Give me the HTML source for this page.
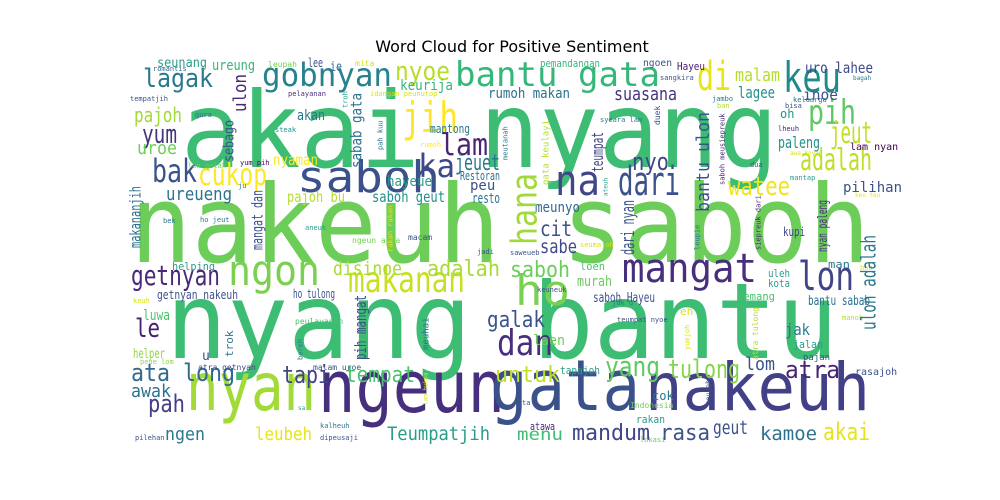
<!DOCTYPE html>
<html><head><meta charset="utf-8"><style>
html,body{margin:0;padding:0;background:#fff;}
svg{display:block;}
text{font-family:"DejaVu Sans Mono","Liberation Mono",monospace;}
</style></head><body>
<svg id="cloud" width="1000" height="500" viewBox="0 0 1000 500" xmlns="http://www.w3.org/2000/svg">
<rect width="1000" height="500" fill="#fff"/>
<text x="512" y="52" text-anchor="middle" font-size="16" style="font-family:'DejaVu Sans','Liberation Sans',sans-serif">Word Cloud for Positive Sentiment</text>
<g id="words"></g>
</svg>
<script>
// [text, x, baselineY, fontSize, color, width(0=auto), rotated]
const words = [
["akai nyang",181,167,105,"#3dbc74",597,0],
["nakeuh saboh",130,262,108,"#6dcd59",740,0],
["nyang bantu",166,358,105,"#3dbc74",672,0],
["ngeun",318,412,72,"#46307e",187,0],
["gata",490,410,70,"#3b518b",150,0],
["nakeuh",645,410,66,"#424086",225,0],
["nyan",186,410,66,"#a2da37",130,0],
["saboh",297,192,44,"#3b518b",143,0],
["gobnyan",262,86,32,"#26828e",130,0],
["lagak",143,87,26,"#2a788e",70,0],
["nyoe",395,80,26,"#b5de2b",55,0],
["bantu gata",455,86,34,"#35b779",205,0],
["di",697,90,40,"#e7e419",34,0],
["keu",783,92,42,"#1f8a8a",58,0],
["pih",808,124,34,"#5ec962",48,0],
["jeut",830,143,30,"#c2df23",42,0],
["jih",402,132,42,"#fde725",56,0],
["lam",440,155,30,"#482475",48,0],
["ka",418,177,32,"#3e4989",37,0],
["jeuet",455,170,22,"#2a788e",45,0],
["bak",152,182,32,"#3b528b",45,0],
["cukop",198,185,30,"#fde725",69,0],
["yum",142,143,26,"#46327e",35,0],
["pajoh",134,122,20,"#a0da39",48,0],
["uroe",137,154,18,"#6ece58",40,0],
["ureueng",166,200,18,"#2c728e",66,0],
["na",555,195,42,"#404688",45,0],
["dari",618,195,40,"#3b528b",62,0],
["nyo",632,170,24,"#404688",37,0],
["adalah",800,170,30,"#bddf26",72,0],
["watee",728,195,26,"#f1e51d",62,0],
["ngon",228,285,42,"#7ad151",92,0],
["makanan",348,292,36,"#c8e020",117,0],
["mangat",622,282,40,"#472f7d",135,0],
["lon",798,290,40,"#414487",56,0],
["ho",515,305,42,"#7ad151",55,0],
["getnyan",131,285,28,"#482878",89,0],
["disinoe",333,275,19,"#a8db34",69,0],
["adalah",427,276,22,"#a8db34",73,0],
["saboh",510,277,22,"#6ccd5a",60,0],
["le",135,337,26,"#482173",25,0],
["dan",497,355,36,"#472f7d",56,0],
["galak",487,327,22,"#3b528b",58,0],
["ata long",131,381,24,"#31688e",104,0],
["tapi",282,383,24,"#414487",48,0],
["tempat",345,382,22,"#4ac16d",70,0],
["untuk",495,382,22,"#c0df25",65,0],
["yang",605,376,28,"#60ca60",55,0],
["tulong",668,378,26,"#84d44b",72,0],
["lom",745,370,18,"#3b528b",30,0],
["atra",785,378,24,"#482475",55,0],
["awak",131,397,18,"#2c738e",40,0],
["pah",148,412,24,"#433e85",37,0],
["ngen",165,440,18,"#2a788e",40,0],
["leubeh",255,440,18,"#e5e419",57,0],
["Teumpatjih",387,440,19,"#2a9d8a",103,0],
["menu",517,440,17,"#40bd72",46,0],
["mandum",572,440,22,"#404688",78,0],
["rasa",660,440,22,"#3b528b",50,0],
["geut",713,434,19,"#3b528b",35,0],
["kamoe",760,440,19,"#2c728e",57,0],
["akai",823,440,24,"#e5e419",47,0],
["seunang",157,67,13,"#2a9d8a",50,0],
["ureung",212,70,14,"#35b779",43,0],
["lee",308,67,12,"#3b528b",15,0],
["ie",330,71,13,"#31688e",12,0],
["mita",355,66,8,"#d8e219",0,0],
["leupah",268,67,8,"#74d055",0,0],
["romantis",153,71,7,"#31688e",0,0],
["tempatjih",130,101,7,"#3b528b",0,0],
["pelayanan",288,96,7,"#472f7d",0,0],
["idangan peunutop",370,96,7,"#d8e219",0,0],
["gura",195,117,7,"#2c728e",0,0],
["steak",275,132,7,"#20928c",0,0],
["keurija",400,90,14,"#35b779",53,0],
["akan",297,120,14,"#2a788e",28,0],
["mantong",430,133,12,"#2a788e",40,0],
["rumoh",420,147,7,"#fde725",0,0],
["nyaman",273,165,15,"#fde725",45,0],
["lon galak",188,168,7,"#6ccd5a",0,0],
["yum pih",240,165,7,"#44015a",0,0],
["hayeue",387,186,14,"#2a9d8a",45,0],
["Restoran",460,180,12,"#2c728e",40,0],
["peu",470,190,14,"#3b528b",0,0],
["pajoh bu",287,202,15,"#b5de2b",58,0],
["saboh geut",372,202,15,"#21918c",73,0],
["resto",472,203,14,"#2c728e",28,0],
["ju",238,188,7,"#2a788e",0,0],
["bek",163,223,7,"#2a788e",0,0],
["ho jeut",200,222,7,"#2a788e",0,0],
["aneuk",305,230,7,"#2a9d8a",0,0],
["ngeun atra",352,243,8,"#74d055",0,0],
["macam",408,240,8,"#3b528b",0,0],
["jadi",477,254,7,"#3b528b",0,0],
["pemandangan",540,67,11,"#35b779",60,0],
["ngoen",643,66,10,"#3b528b",29,0],
["Hayeu",677,70,11,"#482173",28,0],
["malam",735,81,18,"#b5de2b",45,0],
["uro lahee",805,73,15,"#3e4a89",68,0],
["sangkira",660,80,7,"#3b528b",0,0],
["bagah",853,80,6,"#2a788e",0,0],
["rumoh makan",488,98,14,"#2c728e",82,0],
["suasana",614,100,18,"#46327e",63,0],
["lagee",738,98,16,"#21918c",37,0],
["inoe",803,100,15,"#3b528b",35,0],
["jambo",712,101,7,"#2a788e",0,0],
["keluarga",793,102,7,"#2c728e",0,0],
["bisa",785,108,7,"#3b528b",0,0],
["ban",717,108,7,"#b5de2b",0,0],
["oh",780,118,12,"#21918c",0,0],
["syeara lam",600,122,7,"#2a788e",0,0],
["lheuh",778,131,7,"#482878",0,0],
["paleng",778,148,16,"#21918c",42,0],
["lam nyan",850,150,10,"#440154",0,0],
["awa knyan",790,155,6,"#d8e219",0,0],
["dua",750,167,7,"#3b528b",0,0],
["mantap",790,180,7,"#2a9d8a",0,0],
["pilihan",843,192,14,"#3b528b",0,0],
["keu teu",855,197,6,"#e5e419",0,0],
["meunyo",535,212,14,"#31688e",45,0],
["cit",540,236,21,"#3b528b",32,0],
["sabe",540,253,19,"#3e4989",37,0],
["seumajoh",580,247,7,"#d8e219",0,0],
["kupi",783,236,12,"#404688",22,0],
["helping",172,270,11,"#2a9d8a",43,0],
["getnyan nakeuh",157,299,12,"#3b528b",81,0],
["ho tulong",293,298,12,"#3b528b",42,0],
["keuh",133,303,7,"#d8e219",0,0],
["luwa",143,320,14,"#4ac16d",27,0],
["peulayanan",295,324,8,"#4ac16d",0,0],
["helper",133,358,13,"#90d743",32,0],
["u",202,360,13,"#3b528b",0,0],
["peue lom",140,364,7,"#90d743",0,0],
["atra getnyan",198,370,8,"#404688",0,0],
["malam uroe",313,370,8,"#3b528b",0,0],
["sa",298,410,6,"#2a9d8a",0,0],
["kalheuh",320,428,7,"#2a788e",0,0],
["pilehan",135,440,7,"#3b528b",0,0],
["dipeusaji",320,440,7,"#3b528b",0,0],
["saweueb",510,255,7,"#3b528b",0,0],
["loen",580,270,11,"#4ac16d",25,0],
["murah",577,286,14,"#6ccd5a",35,0],
["uleh",768,277,11,"#2a9d8a",22,0],
["kota",768,287,11,"#2a9d8a",22,0],
["man",828,268,11,"#2a788e",22,0],
["boh",860,270,7,"#e5e419",0,0],
["keuneuk",537,292,7,"#3b528b",0,0],
["saboh Hayeu",593,302,13,"#3b528b",62,0],
["memang",737,300,11,"#4ac16d",38,0],
["jak u",612,305,7,"#2a788e",0,0],
["bantu sabab",808,305,13,"#2c728e",62,0],
["eh",680,315,11,"#d8e219",0,0],
["teumpat nyoe",617,322,7,"#3b528b",0,0],
["manok",842,320,7,"#b5de2b",0,0],
["jak",785,335,16,"#2a788e",25,0],
["jalan",793,348,11,"#2a9d8a",30,0],
["pajan",803,360,9,"#3b528b",0,0],
["laen",533,345,14,"#6ccd5a",32,0],
["tapajoh",560,374,11,"#2a9d8a",40,0],
["rasajoh",855,375,10,"#3b528b",0,0],
["cok",652,400,12,"#2a788e",0,0],
["Indonesia",630,408,8,"#6ccd5a",0,0],
["ta",522,405,7,"#3b528b",0,0],
["rakan",636,423,11,"#2a9d8a",29,0],
["atawa",530,430,11,"#482878",25,0],
["lokasi",640,442,7,"#6ccd5a",0,0],
["hana",523,245,36,"#a0da39",72,1],
["teumpat",597,172,16,"#414487",40,1],
["bantu ulon",702,212,18,"#3b528b",100,1],
["gata keulayi",545,185,9,"#b5de2b",0,1],
["saboh meusiepreuk",722,185,7,"#482878",0,1],
["dari nyan",627,255,18,"#3b528b",55,1],
["nyan paleng",822,252,13,"#46327e",52,1],
["siepreuk dari",758,250,7,"#482878",0,1],
["leupie",697,250,7,"#2a788e",0,1],
["duek",657,125,8,"#3b528b",0,1],
["meutanah",505,160,7,"#2a788e",0,1],
["ateuh",605,196,6,"#2a9d8a",0,1],
["ulon adalah",868,330,20,"#2a788e",95,1],
["makananjih",135,248,15,"#2c728e",62,1],
["mangat dan",257,250,15,"#3b528b",60,1],
["ulon",239,112,18,"#482878",38,1],
["sebago",228,162,14,"#3b528b",42,1],
["sabab gata",356,168,15,"#2c728e",75,1],
["troh",345,108,7,"#2a9d8a",0,1],
["pah kuu",380,150,7,"#2c728e",0,1],
["rakan rakan",390,252,7,"#e5e419",0,1],
["pih mangat",360,360,16,"#3b528b",65,1],
["trok",229,357,11,"#2a788e",0,1],
["meuhai",425,350,9,"#2a788e",0,1],
["bereh",300,360,7,"#2a788e",0,1],
["lam hukoa",425,405,6,"#d8e219",0,1],
["yumjoh",687,350,7,"#d8e219",0,1],
["atra tulong",755,360,8,"#b5de2b",0,1],
["meunah",708,405,7,"#3b528b",0,1]
];
const NS = "http://www.w3.org/2000/svg";
const g = document.getElementById("words");
words.forEach(function(w){
  const t = document.createElementNS(NS, "text");
  t.textContent = w[0];
  t.setAttribute("font-size", w[3]);
  t.setAttribute("fill", w[4]);
  if (w[5] > 0) { t.setAttribute("textLength", w[5]); t.setAttribute("lengthAdjust", "spacingAndGlyphs"); }
  if (w[6]) {
    const rx = w[1] + w[3] * 0.38;
    t.setAttribute("transform", "translate(" + rx + "," + w[2] + ") rotate(-90)");
  } else {
    t.setAttribute("x", w[1]);
    t.setAttribute("y", w[2]);
  }
  
  
  g.appendChild(t);
});
</script>
</body></html>
